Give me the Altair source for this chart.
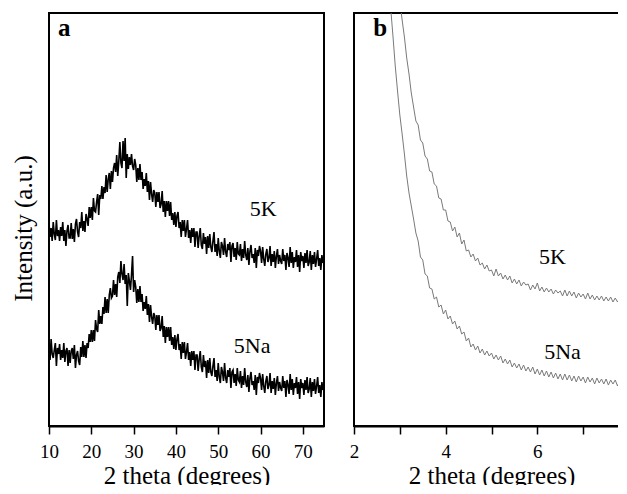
import altair as alt
import pandas as pd

# ---------------- data ----------------
# panel a: 2 theta from 10 to 75 deg, sampled every 0.25 deg
A_X = [round(10 + 0.25 * i, 2) for i in range(261)]
A_5K = [
    203,189,198,185,204,192,186,206,190,196,185,199,190,204,185,196,180,195,201,188,
    188,203,187,197,184,202,207,194,189,204,198,214,195,205,194,212,207,200,219,208,
    219,206,228,215,214,224,232,211,231,227,240,227,239,233,251,234,247,253,237,255,
    244,258,263,254,271,250,265,284,263,258,285,265,288,248,272,257,269,261,272,260,
    256,267,261,244,258,246,262,246,254,237,247,240,253,234,245,226,244,232,224,236,
    233,219,234,224,234,218,222,235,214,225,209,225,215,225,210,224,206,213,201,214,
    199,210,214,198,204,189,206,195,206,189,197,206,188,196,183,198,189,198,179,194,
    194,178,190,198,181,177,193,182,189,172,190,178,192,179,174,185,194,174,182,170,
    188,175,168,184,180,171,188,174,169,182,176,184,164,180,183,169,178,166,184,172,
    171,182,165,177,168,185,171,166,178,161,175,181,168,172,163,178,158,176,170,180,
    175,163,179,167,160,172,177,164,168,180,160,172,164,175,158,170,177,162,171,165,
    162,177,165,171,156,173,168,159,179,163,174,158,169,164,176,159,171,154,174,165,
    170,158,173,163,176,160,164,175,156,171,162,174,159,167,176,160,168,156,171,163,
    166,
]
A_5NA = [
    81,66,87,72,68,76,83,60,78,72,82,66,76,68,83,64,75,78,60,76,
    63,75,78,67,81,58,71,75,65,61,79,69,85,69,81,68,83,78,92,84,
    96,84,96,85,106,97,94,116,102,110,102,119,112,129,113,127,113,131,138,128,
    130,146,131,142,129,149,154,143,165,152,146,162,142,151,120,153,145,136,151,170,
    134,146,139,123,137,124,140,124,132,115,124,117,130,111,122,104,121,109,102,113,
    110,96,111,101,111,95,98,110,89,100,83,99,89,99,85,99,81,89,77,91,
    76,87,92,76,82,67,84,73,84,67,74,83,66,74,60,75,66,75,56,71,
    71,55,67,75,59,54,71,59,65,48,66,53,68,54,50,60,68,49,56,45,
    63,49,43,59,54,45,63,48,43,56,49,58,38,54,56,43,52,40,58,46,
    44,55,38,50,41,58,44,39,51,34,48,54,41,45,36,51,31,49,43,53,
    48,36,52,40,33,45,50,37,41,53,33,45,37,48,31,43,50,35,44,38,
    35,50,38,45,29,46,41,32,52,36,47,31,43,38,49,32,44,27,47,38,
    43,31,46,36,49,33,37,48,29,44,35,47,32,40,49,33,41,29,44,36,
    39,
]

# panel b: 2 theta from 2.75 to 8 deg, sampled every 0.05 deg
B_X = [round(2.75 + 0.05 * i, 2) for i in range(106)]
B_5K = [
    525,505,485,465,445,425,406,389,368,352,333,319,
    305,301,286,283,270,267,255,254,242,240,
    228,227,216,216,205,204,195,199,189,193,
    182,186,175,176,169,172,165,168,161,163,
    157,161,155,156,150,157,150,153,147,151,
    146,150,143,147,142,146,140,144,141,142,
    136,141,137,143,135,139,134,138,134,137,
    132,136,133,135,130,136,130,135,130,134,
    128,133,129,132,127,133,127,131,126,130,
    126,130,125,129,125,129,124,128,124,128,
    123,127,123,124,
]
B_5NA = [
    450,418,390,360,335,311,292,272,250,233,220,207,
    193,185,169,166,152,150,138,137,127,129,
    119,121,112,116,107,110,102,105,97,100,
    92,94,85,88,79,82,76,80,73,77,
    71,75,70,73,67,71,66,70,63,67,
    62,66,59,63,58,62,56,61,55,59,
    54,59,52,57,51,56,50,55,49,54,
    48,53,47,52,46,52,46,51,45,50,
    44,50,45,49,43,49,44,48,42,48,
    43,47,42,47,41,46,42,46,40,46,
    41,45,40,44,
]

SERIES = ["5K", "5Na"]
A_TICKS = [10, 15, 20, 25, 30, 35, 40, 45, 50, 55, 60, 65, 70]
B_TICKS = [2, 3, 4, 5, 6, 7, 8]

FONT = "Times New Roman, Liberation Serif, serif"
Y_DOMAIN = [0, 413]

df_a = pd.DataFrame({
    "x": A_X + A_X,
    "y": A_5K + A_5NA,
    "s": [SERIES[0]] * len(A_X) + [SERIES[1]] * len(A_X),
})
df_b = pd.DataFrame({
    "x": B_X + B_X,
    "y": B_5K + B_5NA,
    "s": [SERIES[0]] * len(B_X) + [SERIES[1]] * len(B_X),
})

lab_a = pd.DataFrame({"x": [60.6, 58.0], "y": [210, 73], "t": SERIES})
lab_b = pd.DataFrame({"x": [6.33, 6.55], "y": [162, 67], "t": SERIES})
let_a = pd.DataFrame({"x": [12.1], "y": [390], "t": ["a"]})
let_b = pd.DataFrame({"x": [2.42], "y": [390], "t": ["b"]})


def panel(df, labs, letter, domain, ticks, step, color, sw, ytitle):
    x_axis = alt.Axis(
        values=ticks,
        labelExpr=f"datum.value % {step} == 0 ? datum.label : ''",
        labelFlush=False,
        labelOverlap=False,
        title="2 theta (degrees)",
    )
    if ytitle:
        y_axis = alt.Axis(labels=False, ticks=False, domain=False, title=ytitle,
                          titlePadding=13, titleY=215)
    else:
        y_axis = alt.Axis(labels=False, ticks=False, domain=False, title=None)
    xs = alt.Scale(domain=domain, nice=False, zero=False)
    ys = alt.Scale(domain=Y_DOMAIN, nice=False, zero=False)

    lines = alt.Chart(df).mark_line(color=color, strokeWidth=sw, clip=True).encode(
        x=alt.X("x:Q", scale=xs, axis=x_axis),
        y=alt.Y("y:Q", scale=ys, axis=y_axis),
        detail="s:N",
    )
    texts = alt.Chart(labs).mark_text(
        font=FONT, fontSize=22, align="center", baseline="alphabetic", color="black"
    ).encode(x=alt.X("x:Q", scale=xs), y=alt.Y("y:Q", scale=ys), text="t:N")
    let = alt.Chart(letter).mark_text(
        font=FONT, fontSize=25, fontWeight="bold", align="left", baseline="alphabetic", color="black"
    ).encode(x=alt.X("x:Q", scale=xs), y=alt.Y("y:Q", scale=ys), text="t:N")
    return alt.layer(lines, texts, let).properties(width=275, height=413)


pa = panel(df_a, lab_a, let_a, [10, 75], A_TICKS, 10, "black", 1.6, "Intensity (a.u.)")
pb = panel(df_b, lab_b, let_b, [2, 8], B_TICKS, 2, "#7a7a7a", 1.0, None)

chart = (
    alt.hconcat(pa, pb, spacing=23)
    .properties(padding={"left": 2, "top": 4, "right": -17, "bottom": -4})
    .configure_view(stroke="black", strokeWidth=2)
    .configure_axis(
        grid=False,
        domainColor="black",
        domainWidth=2,
        tickColor="black",
        tickWidth=1.5,
        tickSize=8,
        labelFont=FONT,
        labelFontSize=19,
        labelColor="black",
        labelPadding=8,
        titleFont=FONT,
        titleFontSize=25,
        titleFontWeight="normal",
        titleColor="black",
        titlePadding=2,
    )
)

chart.save("out.html", embed_options={"renderer": "svg", "actions": False})
